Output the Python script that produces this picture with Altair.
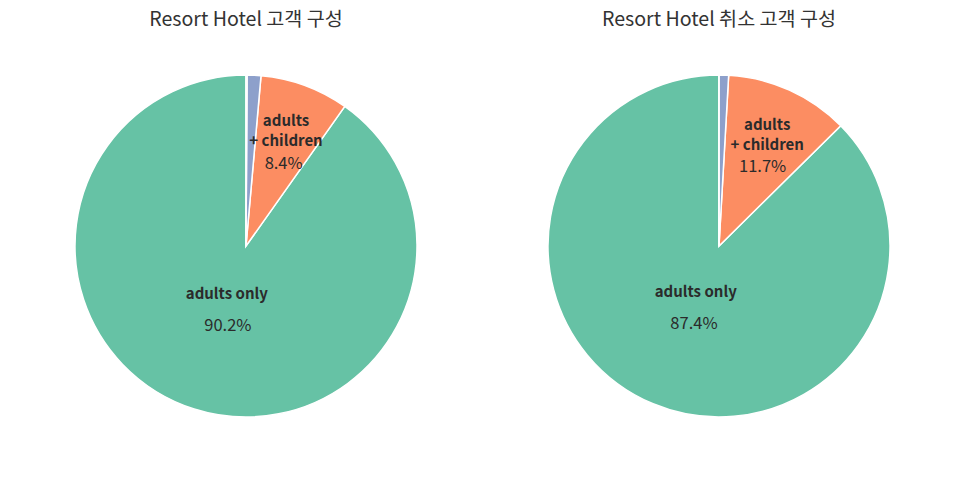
import altair as alt
import pandas as pd

FONT = "Noto Sans CJK KR"
INK = "#2b2b2b"

groups = ["adults only", "adults + children", "children only", "no guests"]
colors = ["#66c2a5", "#fc8d62", "#8da0cb", "#e78ac3"]
all_share = [90.2, 8.4, 1.3, 0.1]
canceled_share = [87.4, 11.7, 0.9, 0.0]
titles = ["Resort Hotel 고객 구성", "Resort Hotel 취소 고객 구성"]


def pie(shares, title):
    df = pd.DataFrame({"group": groups, "share": shares})
    # clockwise from 12 o'clock: last group first, like a counter-clockwise matplotlib pie
    df["rank"] = list(range(len(groups) - 1, -1, -1))
    base = alt.Chart(df).encode(
        theta=alt.Theta("share:Q", stack=True),
        order=alt.Order("rank:Q"),
    )
    arcs = base.mark_arc(outerRadius=171, stroke="white", strokeWidth=1.5).encode(
        color=alt.Color("group:N", scale=alt.Scale(domain=groups, range=colors), legend=None)
    )

    def label(name, radius, kind, dx=0, dy=0):
        if kind == "name":
            expr = f"datum.group == '{name}' ? replace(datum.group, ' + ', '\\n+ ') : ''"
            weight, size = "bold", 15
        else:
            expr = f"datum.group == '{name}' ? format(datum.share, '.1f') + '%' : ''"
            weight, size = "normal", 16.5
        return base.transform_calculate(txt=expr).mark_text(
            radius=radius, dx=dx, dy=dy, font=FONT, fontSize=size, fontWeight=weight,
            color=INK, lineBreak="\n", lineHeight=20,
        ).encode(text="txt:N")

    layers = [
        arcs,
        label("adults only", 50, "name", dx=-4),
        label("adults only", 83, "pct", dx=7, dy=1),
        label("adults + children", 122, "name", dx=-2, dy=-10),
        label("adults + children", 89, "pct", dx=7, dy=2),
    ]
    return alt.layer(*layers).properties(
        width=466, height=420,
        title=alt.TitleParams(title, font=FONT, fontSize=19.6, fontWeight="normal",
                              color="#333333", offset=5),
    )


chart = (
    alt.hconcat(pie(all_share, titles[0]), pie(canceled_share, titles[1]), spacing=7)
    .properties(padding={"left": 5, "top": 2, "right": 0, "bottom": 0}, background="white")
    .configure_view(stroke=None)
)

chart.save("out.html", embed_options={"renderer": "svg", "actions": False})
